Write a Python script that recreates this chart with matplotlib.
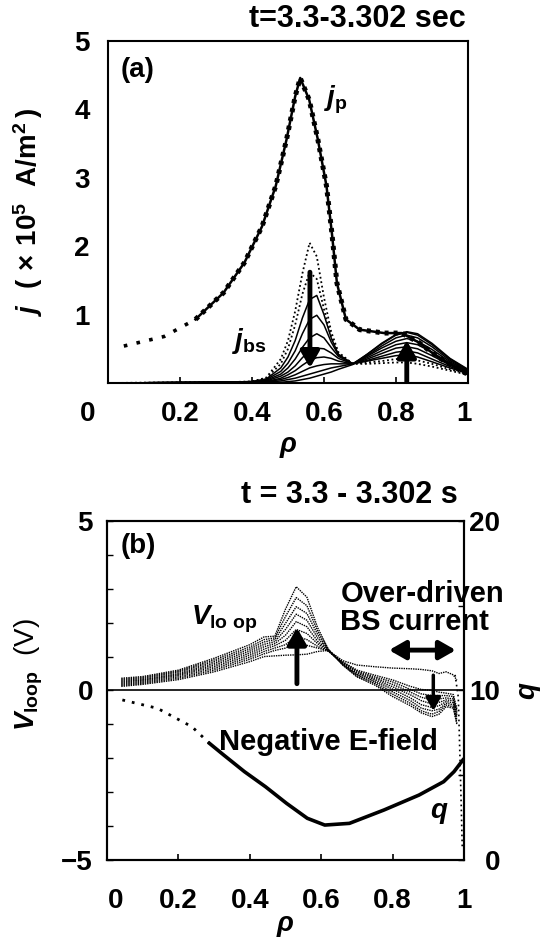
import numpy as np
import matplotlib.pyplot as plt
from matplotlib.transforms import ScaledTranslation

plt.rcParams['font.family'] = 'Liberation Sans'
plt.rcParams['font.weight'] = 'bold'
plt.rcParams['mathtext.fontset'] = 'custom'
plt.rcParams['mathtext.rm'] = 'Liberation Sans:bold'
plt.rcParams['mathtext.it'] = 'Liberation Sans:italic:bold'
plt.rcParams['mathtext.bf'] = 'Liberation Sans:bold'
plt.rcParams['axes.linewidth'] = 1.5

# ---- panel (a): current density profiles ----
jp_rho = [0.044, 0.156, 0.243, 0.321, 0.379, 0.428, 0.466, 0.496, 0.52, 0.534,
          0.559, 0.583, 0.607, 0.622, 0.636, 0.661, 0.699, 0.767, 0.816, 0.864,
          0.913, 0.998]
jp_val = [0.54, 0.68, 0.93, 1.32, 1.76, 2.29, 2.88, 3.56, 4.19, 4.46,
          4.14, 3.56, 2.88, 2.19, 1.46, 0.93, 0.78, 0.73, 0.73, 0.59,
          0.39, 0.13]

bs_rho = [0.00, 0.30, 0.40, 0.44, 0.48, 0.50, 0.52, 0.54, 0.56, 0.58, 0.60,
          0.62, 0.64, 0.68, 0.72, 0.76, 0.80, 0.83, 0.86, 0.90, 0.95, 1.00]
bs_curves = [
    [0.00, 0.01, 0.02, 0.08, 0.35, 0.62, 1.05, 1.60, 2.05, 1.85, 1.25, 0.75, 0.45, 0.28, 0.28, 0.29, 0.30, 0.30, 0.28, 0.24, 0.18, 0.12],
    [0.00, 0.01, 0.02, 0.07, 0.28, 0.50, 0.85, 1.30, 1.62, 1.52, 1.08, 0.68, 0.43, 0.28, 0.30, 0.32, 0.35, 0.35, 0.33, 0.28, 0.20, 0.13],
    [0.00, 0.01, 0.02, 0.06, 0.22, 0.38, 0.62, 0.95, 1.22, 1.28, 1.00, 0.66, 0.42, 0.28, 0.32, 0.36, 0.40, 0.41, 0.38, 0.31, 0.22, 0.14],
    [0.00, 0.01, 0.02, 0.05, 0.17, 0.29, 0.47, 0.72, 0.93, 0.99, 0.85, 0.60, 0.41, 0.28, 0.33, 0.39, 0.45, 0.47, 0.44, 0.35, 0.24, 0.14],
    [0.00, 0.01, 0.02, 0.04, 0.13, 0.22, 0.35, 0.52, 0.66, 0.72, 0.66, 0.52, 0.39, 0.28, 0.35, 0.43, 0.51, 0.53, 0.50, 0.40, 0.26, 0.15],
    [0.00, 0.01, 0.01, 0.03, 0.10, 0.16, 0.25, 0.37, 0.47, 0.51, 0.50, 0.44, 0.36, 0.28, 0.37, 0.47, 0.56, 0.59, 0.56, 0.45, 0.29, 0.16],
    [0.00, 0.01, 0.01, 0.02, 0.07, 0.12, 0.18, 0.26, 0.33, 0.37, 0.38, 0.36, 0.32, 0.28, 0.39, 0.51, 0.61, 0.65, 0.61, 0.49, 0.31, 0.17],
    [0.00, 0.01, 0.01, 0.02, 0.05, 0.08, 0.12, 0.17, 0.22, 0.25, 0.27, 0.28, 0.28, 0.28, 0.40, 0.54, 0.66, 0.70, 0.66, 0.53, 0.33, 0.18],
    [0.00, 0.01, 0.01, 0.01, 0.03, 0.05, 0.07, 0.10, 0.13, 0.16, 0.19, 0.22, 0.24, 0.28, 0.42, 0.57, 0.70, 0.74, 0.70, 0.56, 0.35, 0.19],
    [0.00, 0.00, 0.00, 0.01, 0.01, 0.02, 0.03, 0.05, 0.07, 0.10, 0.13, 0.16, 0.20, 0.27, 0.42, 0.58, 0.71, 0.75, 0.72, 0.58, 0.36, 0.20],
]

# ---- panel (b): loop voltage and q profiles ----
v_rho = [0.04, 0.10, 0.20, 0.30, 0.40, 0.44, 0.47, 0.50, 0.53, 0.56, 0.59, 0.62,
         0.66, 0.70, 0.75, 0.80, 0.85, 0.88, 0.91, 0.93, 0.95, 0.97, 0.98]
v_curves = [
    [0.12, 0.18, 0.32, 0.55, 0.85, 1.00, 1.02, 1.04, 1.05, 1.07, 1.15, 1.18, 0.88, 0.75, 0.70, 0.66, 0.64, 0.62, 0.58, 0.50, 0.55, 0.46, 0.30],
    [0.15, 0.21, 0.36, 0.60, 0.92, 1.08, 1.18, 1.25, 1.39, 1.33, 1.25, 1.17, 0.85, 0.60, 0.45, 0.31, 0.12, 0.03, 0.00, -0.05, -0.08, -0.12, -0.55],
    [0.18, 0.24, 0.40, 0.65, 0.98, 1.15, 1.25, 1.35, 1.59, 1.50, 1.30, 1.16, 0.83, 0.57, 0.40, 0.25, 0.03, -0.10, -0.15, -0.15, -0.15, -0.18, -0.60],
    [0.21, 0.27, 0.44, 0.70, 1.04, 1.22, 1.32, 1.48, 1.80, 1.68, 1.38, 1.16, 0.81, 0.54, 0.36, 0.18, -0.05, -0.20, -0.28, -0.25, -0.22, -0.25, -0.65],
    [0.24, 0.30, 0.47, 0.75, 1.10, 1.29, 1.38, 1.63, 2.03, 1.88, 1.45, 1.17, 0.80, 0.51, 0.32, 0.11, -0.13, -0.30, -0.40, -0.35, -0.28, -0.30, -0.72],
    [0.27, 0.32, 0.50, 0.80, 1.16, 1.36, 1.44, 1.80, 2.25, 2.07, 1.55, 1.18, 0.78, 0.48, 0.28, 0.04, -0.22, -0.42, -0.50, -0.45, -0.33, -0.36, -0.80],
    [0.30, 0.35, 0.54, 0.85, 1.22, 1.43, 1.50, 1.98, 2.47, 2.27, 1.65, 1.19, 0.77, 0.45, 0.24, -0.04, -0.30, -0.52, -0.60, -0.55, -0.38, -0.42, -0.88],
    [0.33, 0.38, 0.57, 0.90, 1.28, 1.50, 1.55, 2.18, 2.74, 2.50, 1.75, 1.20, 0.76, 0.42, 0.20, -0.11, -0.38, -0.60, -0.70, -0.62, -0.43, -0.48, -0.95],
    [0.36, 0.41, 0.60, 0.95, 1.35, 1.58, 1.60, 2.40, 3.06, 2.75, 1.85, 1.22, 0.75, 0.40, 0.16, -0.18, -0.45, -0.66, -0.77, -0.70, -0.48, -0.52, -1.00],
]
edge_rho = [0.975, 0.984, 0.99, 0.995]
edge_v = [0.46, -0.2, -2.5, -4.6]

q_rho = [0.043, 0.141, 0.238, 0.287, 0.327, 0.385, 0.444, 0.503, 0.561, 0.61,
         0.679, 0.776, 0.874, 0.943, 0.972, 0.997]
q_val = [9.44, 8.95, 7.86, 6.88, 6.19, 5.21, 4.32, 3.34, 2.46, 2.06,
         2.16, 2.95, 3.83, 4.62, 5.21, 5.9]

x_ticks = [0, 0.2, 0.4, 0.6, 0.8, 1.0]
x_tick_labels = ['0', '0.2', '0.4', '0.6', '0.8', '1']

FS = 20
arrow_kw = dict(arrowstyle='-|>,head_length=0.7,head_width=0.4', lw=3.5,
                color='k', shrinkA=0, shrinkB=0, mutation_scale=14)

fig = plt.figure(figsize=(5.49, 9.41), dpi=100)


def nudge(label, dx_px):
    # shift one tick label sideways, the way the original figure sits
    label.set_transform(label.get_transform() +
                        ScaledTranslation(dx_px / 100, 0, fig.dpi_scale_trans))


# ---------------- (a) ----------------
ax = fig.add_axes([0.1967, 0.5930, 0.6557, 0.3634])
ax.set_xlim(0, 1)
ax.set_ylim(0, 5)
ax.plot(jp_rho[:3], jp_val[:3], color='k', lw=2.6, ls=(0, (1, 2.6)))
ax.plot(jp_rho[2:], jp_val[2:], color='k', lw=1.8)
ax.plot(jp_rho[2:], jp_val[2:], color='k', lw=3.6, ls=(0, (0.8, 1.0)))
for row in bs_curves[:2]:
    ax.plot(bs_rho, row, color='k', lw=1.3, ls=(0, (1, 1.5)))
for row in bs_curves[2:]:
    ax.plot(bs_rho, row, color='k', lw=1.1)
ax.annotate('', xy=(0.561, 0.22), xytext=(0.561, 1.62), arrowprops=arrow_kw)
ax.annotate('', xy=(0.83, 0.62), xytext=(0.83, 0.02), arrowprops=arrow_kw)
ax.text(0.035, 4.58, '(a)', fontsize=FS, va='center', ha='left')
ax.text(0.6, 4.14, r'$j_{\rm p}$', fontsize=FS, va='center', ha='left')
ax.text(0.345, 0.61, r'$j_{\rm bs}$', fontsize=FS, va='center', ha='left')
ax.text(0.994, 1.041, 't=3.3-3.302 sec', transform=ax.transAxes,
        fontsize=FS + 2, ha='right', va='baseline')
ax.set_xticks(x_ticks)
ax.set_xticklabels(x_tick_labels)
ax.set_yticks([1, 2, 3, 4, 5])
ax.tick_params(axis='x', direction='in', length=4, width=1.2, labelsize=FS, pad=13)
ax.tick_params(axis='y', length=0, labelsize=FS, pad=13)
nudge(ax.get_xticklabels()[0], -20)
nudge(ax.get_xticklabels()[-1], -4)
ax.set_ylabel(r'$j\ \ (\,\times\,10^5\ \ \mathrm{A/m}^2\,)$', fontsize=FS)
ax.yaxis.set_label_coords(-0.175, 0.5)
ax.set_xlabel(r'$\rho$', fontsize=FS)
ax.xaxis.set_label_coords(0.5, -0.15)

# ---------------- (b) ----------------
bx = fig.add_axes([0.1949, 0.0861, 0.6503, 0.3603])
bx.set_xlim(0, 1)
bx.set_ylim(-5, 5)
bx.axhline(0, color='k', lw=1.2)
for row in v_curves:
    bx.plot(v_rho, row, color='k', lw=1.0, ls=(0, (1, 0.7)))
bx.plot(edge_rho, edge_v, color='k', lw=1.2, ls=(0, (1, 2)))
bx.annotate('', xy=(0.532, 1.85), xytext=(0.532, 0.2), arrowprops=arrow_kw)
bx.annotate('', xy=(0.914, -0.6), xytext=(0.914, 0.45),
            arrowprops=dict(arrow_kw, lw=2.5, mutation_scale=11))
bx.annotate('', xy=(0.79, 1.19), xytext=(0.977, 1.19),
            arrowprops=dict(arrowstyle='<|-|>,head_length=0.7,head_width=0.4',
                            lw=3.5, color='k', shrinkA=0, shrinkB=0,
                            mutation_scale=14))
bx.text(0.037, 4.26, '(b)', fontsize=FS, va='center', ha='left')
bx.text(0.235, 2.1, r'$V_{\rm lo\ op}$', fontsize=FS, va='center', ha='left')
bx.text(0.654, 2.43, 'Over-driven\nBS current', fontsize=FS + 1,
        va='center', ha='left', linespacing=1.0)
bx.text(0.62, -1.52, 'Negative E-field', fontsize=FS + 1, va='center', ha='center')
bx.text(0.905, -3.61, r'$q$', fontsize=FS, va='center', ha='left')
bx.text(0.982, 1.053, 't = 3.3 - 3.302 s', transform=bx.transAxes,
        fontsize=FS + 2, ha='right', va='baseline')
bx.set_xticks(x_ticks)
bx.set_xticklabels(x_tick_labels)
bx.set_yticks([-5, 0, 5])
bx.set_yticklabels(['\u22125', '0', '5'])
bx.set_yticks(np.arange(-5, 6, 1), minor=True)
bx.tick_params(axis='x', direction='in', length=4, width=1.2, labelsize=FS, pad=20)
bx.tick_params(axis='y', which='both', direction='in', length=4, width=1.0,
               labelsize=FS, pad=10)
nudge(bx.get_xticklabels()[0], 9)
bx.set_ylabel(r'$V_{\rm loop}$  (V)', fontsize=FS)
bx.yaxis.set_label_coords(-0.174, 0.546)
bx.set_xlabel(r'$\rho$', fontsize=FS)
bx.xaxis.set_label_coords(0.5, -0.155)

qx = bx.twinx()
qx.set_ylim(0, 20)
qx.plot(q_rho[:4], q_val[:4], color='k', lw=2, ls=(0, (1, 2.5)))
qx.plot(q_rho[3:], q_val[3:], color='k', lw=2.6)
qx.set_yticks([0, 10, 20])
qx.set_yticks([5, 15], minor=True)
qx.tick_params(axis='y', which='both', direction='in', length=4, width=1.0,
               labelsize=FS, pad=26)
for lbl in qx.get_yticklabels():
    lbl.set_horizontalalignment('right')
qx.set_ylabel(r'$q$', fontsize=FS, rotation=90)
qx.yaxis.set_label_coords(1.148, 0.5)

fig.savefig('out.png', dpi=100)
